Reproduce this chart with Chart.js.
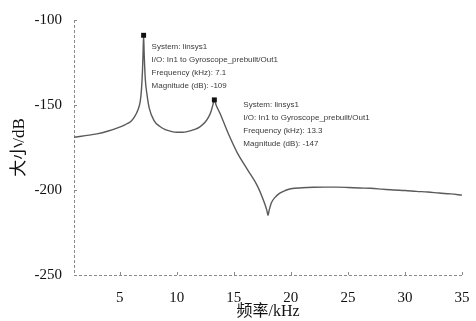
<!DOCTYPE html>
<html>
<head>
<meta charset="utf-8">
<script src="https://cdn.jsdelivr.net/npm/chart.js@4/dist/chart.umd.min.js"></script>
<style>
  html, body { margin: 0; padding: 0; background: #fff; }
  #wrap { width: 476px; height: 321px; }
</style>
</head>
<body>
<div id="wrap"><canvas id="bode"></canvas></div>
<script>
// frequency (kHz) and magnitude (dB)
const freqs = [1, 2, 3, 4, 5, 5.5, 6, 6.3, 6.6, 6.8, 6.9, 7.0, 7.05, 7.1, 7.15, 7.25, 7.4, 7.6, 8, 8.5, 9, 9.5, 10, 10.5, 11, 11.5, 12, 12.5, 12.8, 13.0, 13.15, 13.3, 13.45, 13.8, 14.5, 15.3, 16.2, 17.1, 17.6, 17.9, 18, 18.1, 18.3, 18.6, 19, 19.5, 20, 21, 22, 23, 24, 25, 26, 27, 28, 29, 30, 31, 32, 33, 34, 35];
const mags = [-169, -168, -167, -165.3, -163, -161.5, -159.5, -157, -153, -148, -142, -130, -120, -109, -120, -135, -144, -152, -159, -162.5, -164.5, -165.5, -166, -166, -165.5, -164.5, -163, -160, -157, -154, -150.5, -147, -150, -155, -166.5, -178, -188, -198, -206, -212, -215, -212, -207.5, -204.5, -202, -200.3, -199.3, -198.7, -198.4, -198.3, -198.3, -198.5, -198.8, -199, -199.5, -200, -200.3, -200.8, -201.2, -201.8, -202.3, -203];

const xTicks = [5, 10, 15, 20, 25, 30, 35];
const yTicks = [-250, -200, -150, -100];

// data tips
const tipFreqs = [7.1, 13.3];
const tipMags = [-109, -147];
const tipOffsets = [[8, 11], [29, 5]];

const serif = "'Liberation Serif', 'Times New Roman', 'Noto Sans CJK SC', serif";

// dashed left/bottom axis lines with small inward ticks
const axisPlugin = {
  id: 'dashedAxes',
  beforeDatasetsDraw(chart) {
    const ctx = chart.ctx;
    const {left, right, top, bottom} = chart.chartArea;
    const xs = chart.scales.x, ys = chart.scales.y;
    ctx.save();
    ctx.strokeStyle = '#8a8a8a';
    ctx.lineWidth = 1;
    ctx.setLineDash([3, 2]);
    ctx.beginPath();
    ctx.moveTo(left + 0.5, top);
    ctx.lineTo(left + 0.5, bottom + 0.5);
    ctx.lineTo(right, bottom + 0.5);
    ctx.stroke();
    ctx.setLineDash([]);
    ctx.beginPath();
    xTicks.forEach(v => {
      const p = Math.round(xs.getPixelForValue(v)) + 0.5;
      ctx.moveTo(p, bottom);
      ctx.lineTo(p, bottom - 3);
    });
    yTicks.forEach(v => {
      const p = Math.round(ys.getPixelForValue(v)) + 0.5;
      ctx.moveTo(left, p);
      ctx.lineTo(left + 3, p);
    });
    ctx.stroke();
    ctx.restore();
  }
};

const tipPlugin = {
  id: 'tips',
  afterDatasetsDraw(chart) {
    const ctx = chart.ctx;
    const xs = chart.scales.x, ys = chart.scales.y;
    ctx.save();
    ctx.font = "8px 'Liberation Sans', Arial, sans-serif";
    ctx.fillStyle = '#3a3a3a';
    ctx.textBaseline = 'middle';
    tipFreqs.forEach((f, i) => {
      const px = xs.getPixelForValue(f), py = ys.getPixelForValue(tipMags[i]);
      const lines = [
        'System: linsys1',
        'I/O: In1 to Gyroscope_prebuilt/Out1',
        'Frequency (kHz): ' + f,
        'Magnitude (dB): ' + tipMags[i]
      ];
      lines.forEach((t, k) => {
        ctx.fillText(t, px + tipOffsets[i][0], py + tipOffsets[i][1] + k * 13);
      });
    });
    ctx.restore();
  }
};

const myData = document.getElementById('bode');
new Chart(myData, {
  type: 'line',
  data: {
    datasets: [{
      data: freqs.map((f, i) => ({x: f, y: mags[i]})),
      borderColor: '#5a5a5a',
      borderWidth: 1.4,
      cubicInterpolationMode: 'monotone',
      fill: false,
      pointStyle: 'rect',
      pointRadius: ctx => tipFreqs.includes(freqs[ctx.dataIndex]) ? 3.5 : 0,
      pointBackgroundColor: '#111',
      pointBorderColor: '#111',
      pointBorderWidth: 0
    }]
  },
  options: {
    responsive: true,
    maintainAspectRatio: false,
    animation: false,
    layout: { padding: { top: 20, right: 14, left: 0, bottom: 0 } },
    plugins: { legend: { display: false }, tooltip: { enabled: false } },
    scales: {
      x: {
        type: 'linear',
        min: 1,
        max: 35,
        afterBuildTicks: s => { s.ticks = xTicks.map(v => ({value: v})); },
        afterFit: s => { s.height = 46; },
        grid: { display: false },
        border: { display: false },
        ticks: { color: '#111', font: { family: serif, size: 15 }, padding: 6, maxRotation: 0 },
        title: { display: true, text: '频率/kHz', color: '#111', font: { family: serif, size: 16 }, padding: 0 }
      },
      y: {
        min: -250,
        max: -100,
        afterBuildTicks: s => { s.ticks = yTicks.map(v => ({value: v})); },
        afterFit: s => { s.width = 74; },
        grid: { display: false },
        border: { display: false },
        ticks: { color: '#111', font: { family: serif, size: 15 }, padding: 4 },
        title: { display: true, text: '大小/dB', color: '#111', font: { family: serif, size: 17 }, padding: { top: 9, bottom: 0 } }
      }
    }
  },
  plugins: [axisPlugin, tipPlugin]
});
</script>
</body>
</html>
